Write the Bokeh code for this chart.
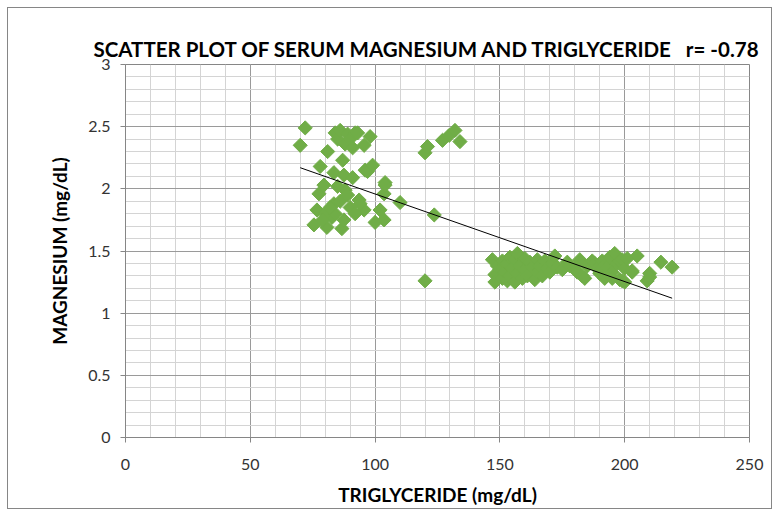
import numpy as np
from bokeh.plotting import figure
from bokeh.models import Range1d, FixedTicker
from bokeh.embed import file_html
from bokeh.resources import INLINE

# TRIGLYCERIDE (mg/dL) and MAGNESIUM (mg/dL)
trig_low = [70, 72, 75.5, 76.7, 77.5, 78, 79.5, 80.7, 81, 82.7, 83.5, 83.5, 84, 85, 86,
            86.7, 87, 87.5, 87.5, 88, 88, 89, 90, 91, 91, 92, 93, 93.6, 95.6, 95.6, 96,
            97, 98, 99, 100, 102, 103.6, 103.6, 104, 104, 110, 120, 120, 121, 123.7,
            127, 129.7, 132, 134, 80, 84, 86, 90, 92, 94, 85, 89, 79, 82]
mg_low = [2.35, 2.49, 1.71, 1.83, 1.96, 2.18, 2.03, 1.69, 2.30, 1.77, 2.13, 1.88, 2.45,
          2.40, 2.47, 1.68, 2.23, 2.11, 1.75, 1.99, 2.36, 2.44, 2.40, 2.33, 2.09, 2.45,
          2.45, 1.91, 2.35, 1.83, 2.15, 2.14, 2.42, 2.19, 1.73, 1.83, 1.96, 1.75, 2.05,
          2.03, 1.89, 1.26, 2.29, 2.34, 1.79, 2.39, 2.43, 2.47, 2.38, 1.80, 1.80, 1.90,
          1.85, 1.80, 1.88, 2.02, 1.95, 1.75, 1.85]
trig_high = [147, 148, 148, 149, 150, 151, 151, 152, 153, 153, 154, 154, 155, 156, 156,
             157, 157, 158, 159, 160, 160, 161, 162, 163, 164, 165, 165, 166, 167, 168,
             169, 170, 171, 172, 173, 175, 177, 178, 180, 181, 182, 183, 184, 185, 187,
             188, 189, 190, 191, 191, 192, 193, 194, 195, 195, 196, 197, 198, 198, 199,
             199, 200, 200, 201, 203, 203, 205, 209, 210, 210, 214.5, 219]
mg_high = [1.43, 1.31, 1.25, 1.38, 1.35, 1.28, 1.42, 1.33, 1.40, 1.26, 1.45, 1.30, 1.36,
           1.43, 1.25, 1.32, 1.48, 1.38, 1.28, 1.35, 1.44, 1.30, 1.41, 1.37, 1.27, 1.33,
           1.43, 1.38, 1.30, 1.42, 1.36, 1.33, 1.40, 1.46, 1.37, 1.35, 1.41, 1.38, 1.36,
           1.33, 1.43, 1.30, 1.28, 1.38, 1.42, 1.40, 1.36, 1.32, 1.42, 1.37, 1.28, 1.37,
           1.45, 1.33, 1.28, 1.48, 1.40, 1.27, 1.42, 1.43, 1.26, 1.36, 1.25, 1.44, 1.33,
           1.34, 1.46, 1.26, 1.32, 1.29, 1.41, 1.37]

x_ticks = [0, 50, 100, 150, 200, 250]
y_ticks = [0, 0.5, 1, 1.5, 2, 2.5, 3]

title_text = "SCATTER PLOT OF SERUM MAGNESIUM AND TRIGLYCERIDE\u00a0\u00a0\u00a0r= -0.78"
x_label = "TRIGLYCERIDE (mg/dL)"
y_label = "MAGNESIUM (mg/dL)"

trig = np.array(trig_low + trig_high, dtype=float)
mg = np.array(mg_low + mg_high, dtype=float)

slope, intercept = np.polyfit(trig, mg, 1)
fit_x = np.array([trig.min(), trig.max()])
fit_y = slope * fit_x + intercept

FONT = "Lato"

p = figure(width=765, height=502, output_backend="svg", toolbar_location=None,
           x_range=Range1d(0, 250), y_range=Range1d(0, 3),
           min_border_left=117, min_border_right=24, min_border_top=56,
           min_border_bottom=73, title=title_text)
p.styles = {"border": "1px solid #868686", "margin": "7px"}

p.title.text_font = FONT
p.title.text_font_size = "20.5px"
p.title.text_font_style = "bold"
p.title.text_color = "#000000"
p.title.align = "left"
p.title.standoff = 8
p.title.offset = -32

p.outline_line_color = "#868686"

xt = FixedTicker(ticks=x_ticks, minor_ticks=list(range(0, 251, 10)))
yt = FixedTicker(ticks=y_ticks, minor_ticks=[round(i * 0.1, 1) for i in range(31)])

for ax, tk in ((p.xaxis, xt), (p.yaxis, yt)):
    ax.ticker = tk
    ax.major_label_text_font = FONT
    ax.major_label_text_font_size = "16px"
    ax.major_label_text_color = "#333333"
    ax.axis_label_text_font = FONT
    ax.axis_label_text_color = "#000000"
    ax.axis_label_text_font_style = "bold"
    ax.axis_label_text_font_size = "19px"
    ax.axis_line_color = "#868686"
    ax.major_tick_line_color = "#868686"
    ax.major_tick_out = 5
    ax.major_tick_in = 0
    ax.minor_tick_line_color = None

p.xaxis.axis_label = x_label
p.yaxis.axis_label = y_label
p.xaxis.major_label_standoff = 16
p.yaxis.major_label_standoff = 10
p.xaxis.axis_label_standoff = 10
p.yaxis.axis_label_standoff = 14

p.xgrid.ticker = xt
p.ygrid.ticker = yt
p.xgrid.grid_line_color = "#9a9a9a"
p.ygrid.grid_line_color = "#9a9a9a"
p.xgrid.minor_grid_line_color = "#d4d4d4"
p.ygrid.minor_grid_line_color = "#d4d4d4"

p.scatter(trig, mg, marker="square", size=10, angle=np.pi / 4,
          fill_color="#70AD47", line_color="#70AD47")
p.line(fit_x, fit_y, line_color="#000000", line_width=1)

open("out.html", "w").write(file_html(p, INLINE))
